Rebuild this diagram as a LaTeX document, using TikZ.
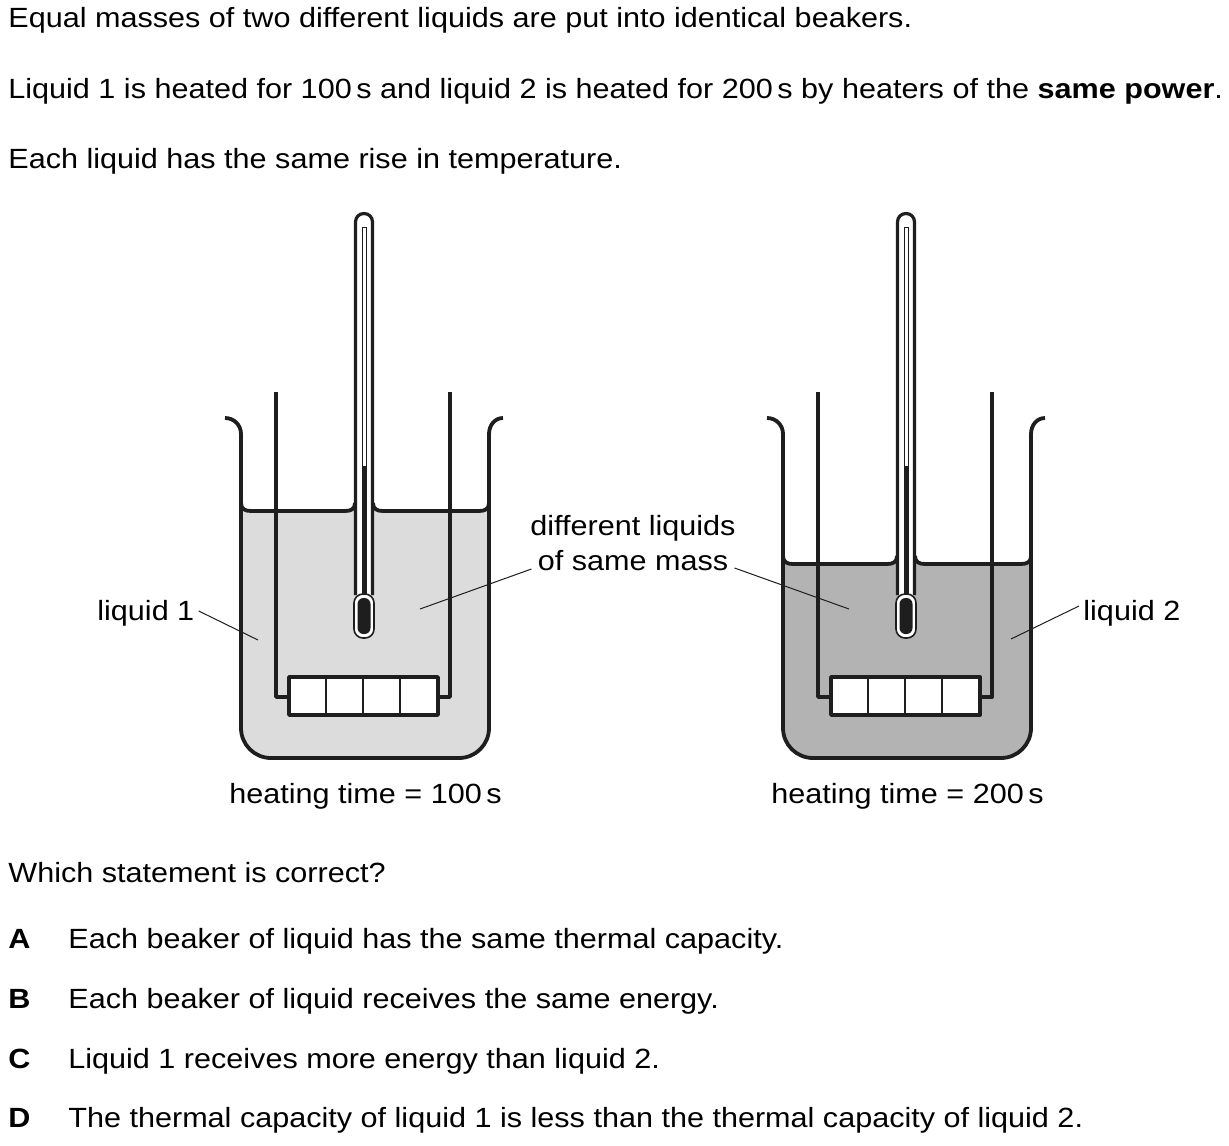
\documentclass[tikz,border=0pt]{standalone}
\usepackage{fontspec}
\setmainfont{Liberation Sans}[FakeStretch=1.10]
\definecolor{liqA}{HTML}{DCDCDC}
\definecolor{liqB}{HTML}{B3B3B3}
\definecolor{ink}{HTML}{1E1E1E}
\tikzset{
  txt/.style={inner sep=0pt, anchor=base west, font=\fontsize{13.9pt}{16pt}\selectfont, text=black},
  ctxt/.style={inner sep=0pt, anchor=base, font=\fontsize{13.9pt}{16pt}\selectfont, text=black},
  wall/.style={draw=ink, line width=1.9pt, line join=round},
  tube/.style={draw=ink, line width=1.6pt},
  thinl/.style={draw=ink, line width=0.7pt},
  leader/.style={draw=ink, line width=0.5pt},
}
% #1 fill colour, #2 surface level
\newcommand\mybeaker[2]{%
  \fill[#1] (241,#2-8) .. controls (241,#2-2) and (245,#2) .. (251,#2) -- (345,#2)
     .. controls (351,#2) and (355,#2-2) .. (355,#2-8) -- (373,#2-8)
     .. controls (373,#2-2) and (377,#2) .. (383,#2) -- (479,#2)
     .. controls (485,#2) and (489,#2-2) .. (489,#2-8) -- (489,728)
     .. controls (489,744.6) and (475.6,758) .. (459,758) -- (271,758)
     .. controls (254.4,758) and (241,744.6) .. (241,728) -- cycle;
  % liquid surface
  \draw[wall] (241,#2-8) .. controls (241,#2-2) and (245,#2) .. (251,#2) -- (345,#2)
     .. controls (351,#2) and (355,#2-2) .. (355,#2-8);
  \draw[wall] (373,#2-8) .. controls (373,#2-2) and (377,#2) .. (383,#2) -- (479,#2)
     .. controls (485,#2) and (489,#2-2) .. (489,#2-8);
  % beaker
  \draw[wall] (225,418) .. controls (234,418) and (241,425) .. (241,434) -- (241,728)
     .. controls (241,744.6) and (254.4,758) .. (271,758) -- (459,758)
     .. controls (475.6,758) and (489,744.6) .. (489,728) -- (489,434)
     .. controls (489,425) and (495,418) .. (503,418);
  % heater wires and heater
  \draw[wall] (276,392) -- (276,697) -- (289,697);
  \draw[wall] (450,392) -- (450,697) -- (438,697);
  \draw[wall, fill=white] (289,677) rectangle (438,715);
  \draw[thinl] (326,677) -- (326,715);
  \draw[thinl] (363,677) -- (363,715);
  \draw[thinl] (400,677) -- (400,715);
  % thermometer
  \draw[tube, fill=white] (355.5,595) -- (355.5,222) .. controls (355.5,217) and (359.3,213.5) .. (364,213.5)
     .. controls (368.7,213.5) and (372.5,217) .. (372.5,222) -- (372.5,595);
  \draw[draw=ink, line width=0.5pt, fill=white] (362,595) -- (362,227) -- (366,227) -- (366,595);
  \fill[ink] (361.7,466) rectangle (366.3,595);
  \draw[draw=ink, line width=0.8pt, fill=white, rounded corners=4.5pt] (354,594) rectangle (374,638);
  \fill[ink, rounded corners=3pt] (357.5,598) rectangle (370.5,634);
}
\begin{document}
\begin{tikzpicture}[x=0.5pt, y=-0.5pt]
\useasboundingbox (0,0) rectangle (1229,1145);
\fill[white] (0,0) rectangle (1229,1145);

\node[txt] (t1) at (8,28) {Equal masses of two different liquids are put into identical beakers.};
\node[txt] (t2) at (8,98) {Liquid 1 is heated for 100\,s and liquid 2 is heated for 200\,s by heaters of the \textbf{same power}.};
\node[txt] (t3) at (8,168) {Each liquid has the same rise in temperature.};

\mybeaker{liqA}{511}
\begin{scope}[xshift=271pt]
\mybeaker{liqB}{564}
\end{scope}

\node[txt] (l1) at (97,620) {liquid 1};
\node[ctxt] (m1) at (633,535) {different liquids};
\node[ctxt] (m2) at (633,570) {of same mass};
\node[txt] (l2) at (1083,620) {liquid 2};
\coordinate (p1) at (258,640);
\coordinate (p2) at (420,609);
\coordinate (p3) at (849,609);
\coordinate (p4) at (1011,639);
\draw[leader] ([shift={(2pt,4.5pt)}]l1.base east) -- (p1);
\draw[leader] ([shift={(-3pt,0.5pt)}]m2.base west) -- (p2);
\draw[leader] ([shift={(3pt,1pt)}]m2.base east) -- (p3);
\draw[leader] ([shift={(-2pt,7pt)}]l2.base west) -- (p4);

\node[txt] (h1) at (229,803) {heating time = 100\,s};
\node[txt] (h2) at (771,803) {heating time = 200\,s};

\node[txt] (q) at (8,882) {Which statement is correct?};
\node[txt] (oA) at (8,948) {\textbf{A}};
\node[txt] (aA) at (68,948) {Each beaker of liquid has the same thermal capacity.};
\node[txt] (oB) at (8,1008) {\textbf{B}};
\node[txt] (aB) at (68,1008) {Each beaker of liquid receives the same energy.};
\node[txt] (oC) at (8,1068) {\textbf{C}};
\node[txt] (aC) at (68,1068) {Liquid 1 receives more energy than liquid 2.};
\node[txt] (oD) at (8,1127) {\textbf{D}};
\node[txt] (aD) at (68,1127) {The thermal capacity of liquid 1 is less than the thermal capacity of liquid 2.};
\end{tikzpicture}
\end{document}
